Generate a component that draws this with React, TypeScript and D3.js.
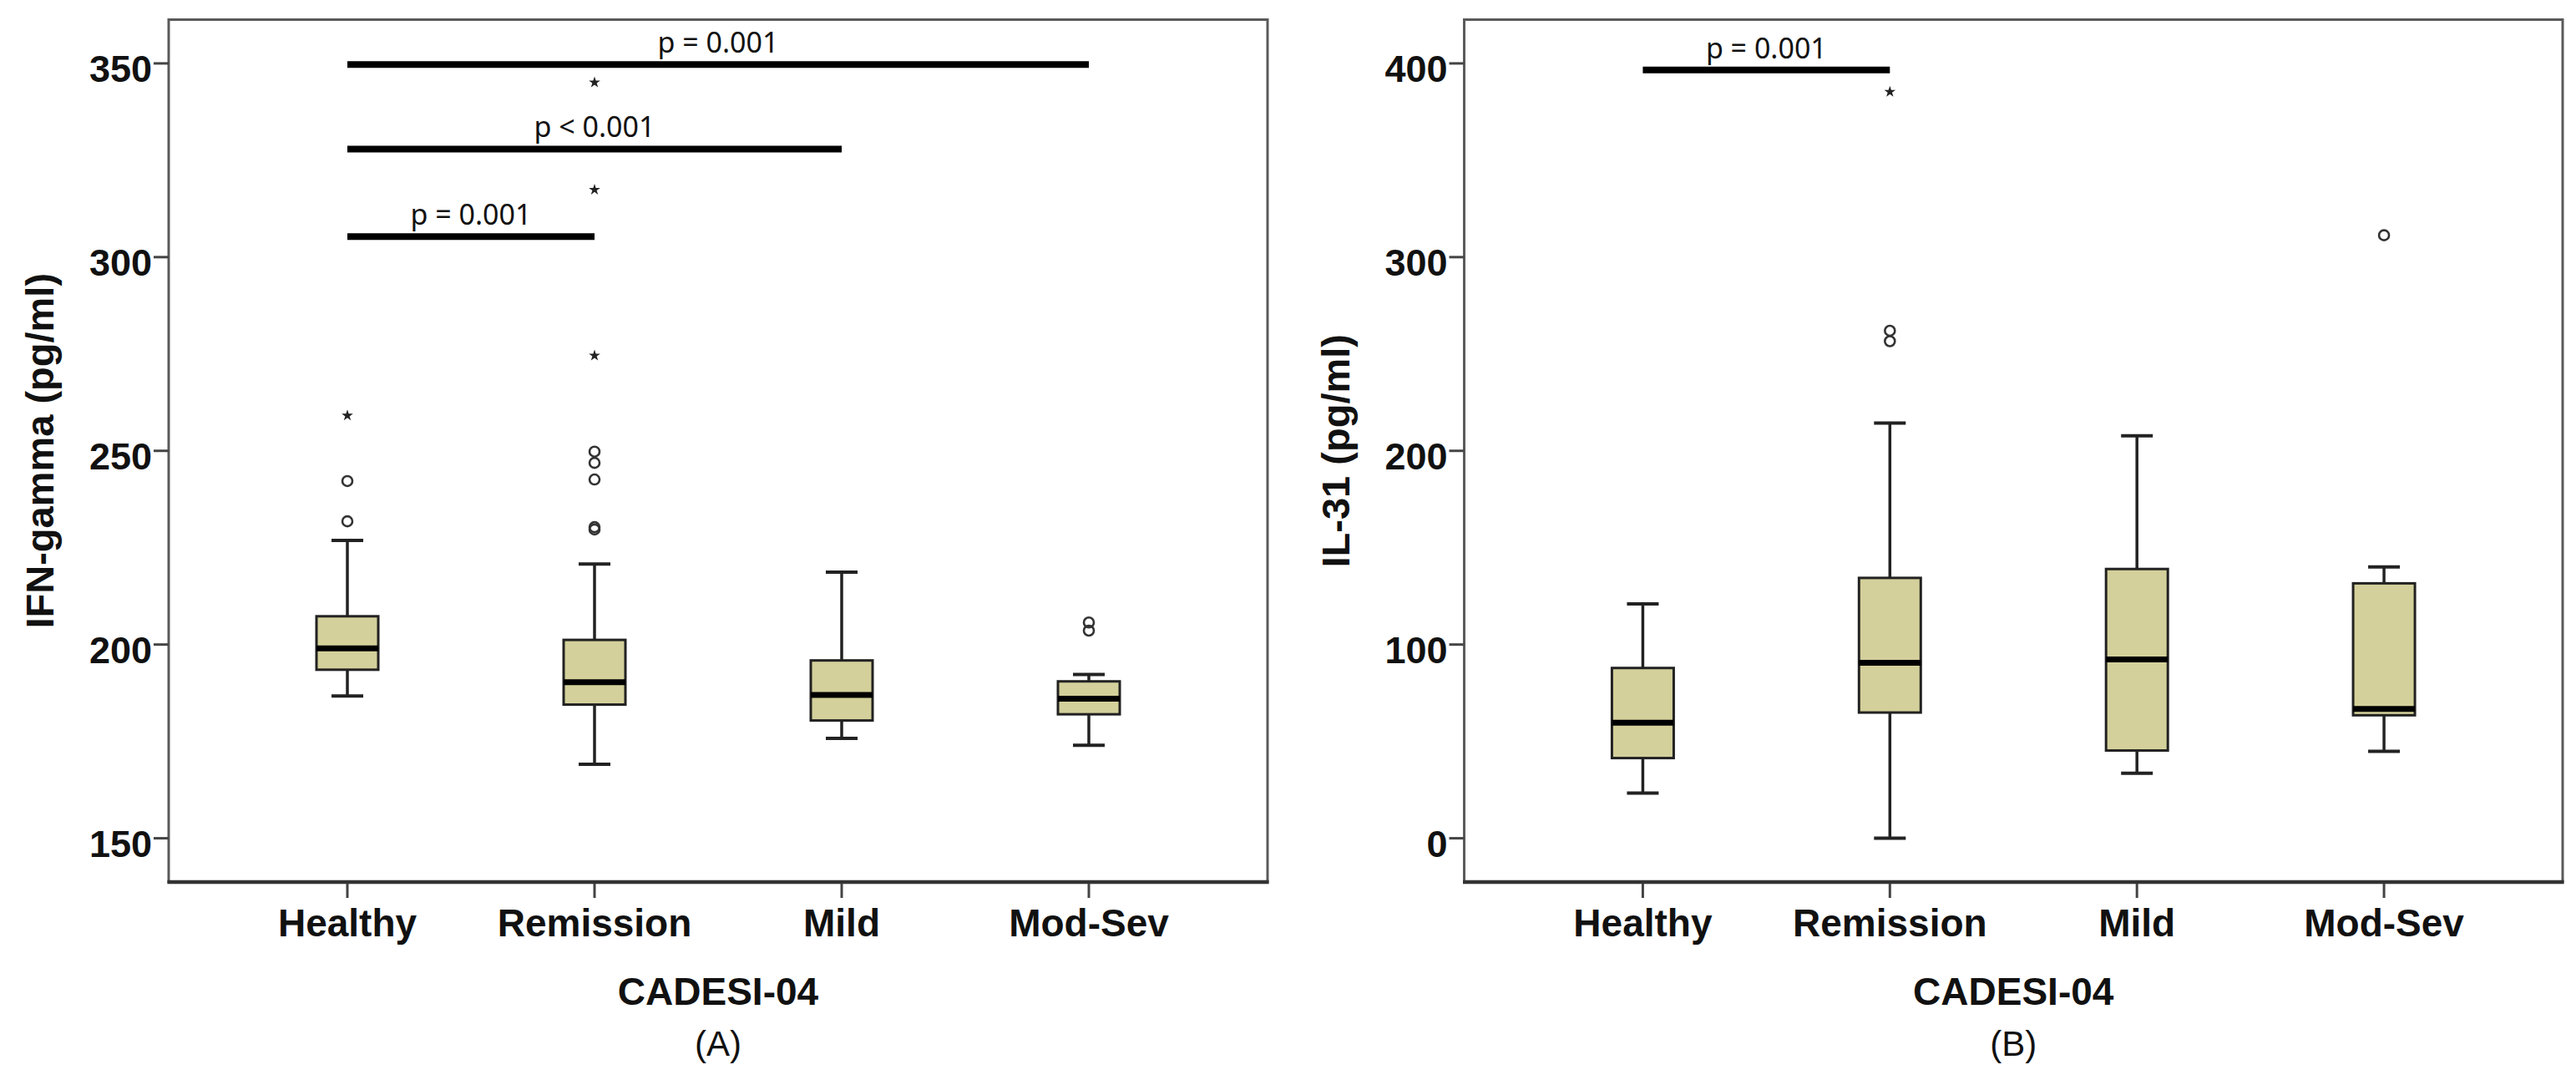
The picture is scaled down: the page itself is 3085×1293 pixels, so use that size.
import React from "react";
import * as d3 from "d3";

// ---------- data ----------
const categories = ["Healthy", "Remission", "Mild", "Mod-Sev"];

// Panel A: IFN-gamma (pg/ml)
const ifnWhiskerLow = [186.7, 169.1, 175.8, 174.0];
const ifnQ1 = [193.5, 184.5, 180.4, 182.0];
const ifnMedian = [199.0, 190.3, 187.0, 186.0];
const ifnQ3 = [207.3, 201.2, 195.9, 190.5];
const ifnWhiskerHigh = [226.9, 220.8, 218.7, 192.3];
const ifnOutlierCircles = [
  { group: "Healthy", value: 231.8 },
  { group: "Healthy", value: 242.2 },
  { group: "Remission", value: 229.7 },
  { group: "Remission", value: 230.3 },
  { group: "Remission", value: 242.6 },
  { group: "Remission", value: 246.9 },
  { group: "Remission", value: 249.8 },
  { group: "Mod-Sev", value: 203.6 },
  { group: "Mod-Sev", value: 205.7 },
];
const ifnOutlierStars = [
  { group: "Healthy", value: 259.1 },
  { group: "Remission", value: 274.6 },
  { group: "Remission", value: 317.4 },
  { group: "Remission", value: 345.1 },
];
const ifnTicks = [150, 200, 250, 300, 350];
const ifnDomain = [138.7, 361.3];
const ifnSig = [
  { from: "Healthy", to: "Remission", value: 305.3, label: "p = 0.001" },
  { from: "Healthy", to: "Mild", value: 327.9, label: "p < 0.001" },
  { from: "Healthy", to: "Mod-Sev", value: 349.7, label: "p = 0.001" },
];

// Panel B: IL-31 (pg/ml)
const ilWhiskerLow = [23.3, 0, 33.6, 44.9];
const ilQ1 = [41.4, 64.9, 45.3, 63.5];
const ilMedian = [59.6, 90.6, 92.3, 66.8];
const ilQ3 = [87.9, 134.4, 139.0, 131.6];
const ilWhiskerHigh = [121.0, 214.3, 207.8, 140.1];
const ilOutlierCircles = [
  { group: "Remission", value: 256.6 },
  { group: "Remission", value: 262.0 },
  { group: "Mod-Sev", value: 311.3 },
];
const ilOutlierStars = [{ group: "Remission", value: 385.3 }];
const ilTicks = [0, 100, 200, 300, 400];
const ilDomain = [-22.6, 422.6];
const ilSig = [{ from: "Healthy", to: "Remission", value: 396.6, label: "p = 0.001" }];

// ---------- styles ----------
const BOX_FILL = "#D4D09B";
const BOLD_FONT = "'Liberation Sans', Arial, sans-serif";
const PVAL_FONT = "'Noto Sans', 'Open Sans', sans-serif";

type Panel = {
  left: number;
  right: number;
  yTitle: string;
  caption: string;
  domain: number[];
  ticks: number[];
  low: number[];
  q1: number[];
  med: number[];
  q3: number[];
  high: number[];
  circles: { group: string; value: number }[];
  stars: { group: string; value: number }[];
  sig: { from: string; to: string; value: number; label: string }[];
};

const TOP = 23.5;
const BOTTOM = 1056;

function BoxPanel({ p }: { p: Panel }) {
  const x = d3
    .scalePoint<string>()
    .domain(categories)
    .range([p.left, p.right])
    .padding(0.723);
  const y = d3.scaleLinear().domain(p.domain).range([BOTTOM, TOP]);
  const boxW = 74;
  const capW = 38;
  const star = d3.symbol().type(d3.symbolStar).size(58)();
  const cx = (p.left + p.right) / 2;
  const midY = (TOP + BOTTOM) / 2;

  return (
    <g>
      {/* frame */}
      <rect
        x={p.left}
        y={TOP}
        width={p.right - p.left}
        height={BOTTOM - TOP}
        fill="none"
        stroke="#5a5a5a"
        strokeWidth={3}
      />
      <line x1={p.left - 1.5} x2={p.right + 1.5} y1={BOTTOM} y2={BOTTOM} stroke="#333" strokeWidth={4.5} />

      {/* y ticks */}
      {p.ticks.map((t) => (
        <g key={"yt" + t}>
          <line x1={p.left - 18} x2={p.left} y1={y(t)} y2={y(t)} stroke="#444" strokeWidth={3} />
          <text
            x={p.left - 20}
            y={y(t) + 22}
            textAnchor="end"
            fontFamily={BOLD_FONT}
            fontWeight="bold"
            fontSize={45}
            fill="#111"
          >
            {t}
          </text>
        </g>
      ))}

      {/* x ticks */}
      {categories.map((c) => (
        <g key={"xt" + c}>
          <line x1={x(c)} x2={x(c)} y1={BOTTOM + 2} y2={BOTTOM + 19} stroke="#444" strokeWidth={3} />
          <text
            x={x(c)}
            y={1121}
            textAnchor="middle"
            fontFamily={BOLD_FONT}
            fontWeight="bold"
            fontSize={46}
            fill="#111"
          >
            {c}
          </text>
        </g>
      ))}

      {/* axis titles */}
      <text
        x={cx}
        y={1203}
        textAnchor="middle"
        fontFamily={BOLD_FONT}
        fontWeight="bold"
        fontSize={46}
        fill="#111"
      >
        CADESI-04
      </text>
      <text x={cx} y={1264} textAnchor="middle" fontFamily={BOLD_FONT} fontSize={42} fill="#111">
        {p.caption}
      </text>
      <text
        transform={`translate(${p.left - 138},${midY}) rotate(-90)`}
        textAnchor="middle"
        fontFamily={BOLD_FONT}
        fontWeight="bold"
        fontSize={47}
        fill="#111"
      >
        {p.yTitle}
      </text>

      {/* boxes */}
      {categories.map((c, i) => {
        const xc = x(c) as number;
        return (
          <g key={"box" + c}>
            <line x1={xc} x2={xc} y1={y(p.high[i])} y2={y(p.q3[i])} stroke="#222" strokeWidth={3.5} />
            <line x1={xc} x2={xc} y1={y(p.q1[i])} y2={y(p.low[i])} stroke="#222" strokeWidth={3.5} />
            <line x1={xc - capW / 2} x2={xc + capW / 2} y1={y(p.high[i])} y2={y(p.high[i])} stroke="#222" strokeWidth={4} />
            <line x1={xc - capW / 2} x2={xc + capW / 2} y1={y(p.low[i])} y2={y(p.low[i])} stroke="#222" strokeWidth={4} />
            <rect
              x={xc - boxW / 2}
              y={y(p.q3[i])}
              width={boxW}
              height={y(p.q1[i]) - y(p.q3[i])}
              fill={BOX_FILL}
              stroke="#222"
              strokeWidth={3}
            />
            <line
              x1={xc - boxW / 2}
              x2={xc + boxW / 2}
              y1={y(p.med[i])}
              y2={y(p.med[i])}
              stroke="#000"
              strokeWidth={7}
            />
          </g>
        );
      })}

      {/* outliers */}
      {p.circles.map((o, i) => (
        <circle
          key={"oc" + i}
          cx={x(o.group)}
          cy={y(o.value)}
          r={6}
          fill="none"
          stroke="#333"
          strokeWidth={2.6}
        />
      ))}
      {p.stars.map((o, i) => (
        <path key={"os" + i} d={star as string} transform={`translate(${x(o.group)},${y(o.value)})`} fill="#222" />
      ))}

      {/* significance bars */}
      {p.sig.map((s, i) => {
        const x1 = x(s.from) as number;
        const x2 = x(s.to) as number;
        const yy = y(s.value);
        return (
          <g key={"sig" + i}>
            <line x1={x1} x2={x2} y1={yy} y2={yy} stroke="#000" strokeWidth={8} />
            <text
              x={(x1 + x2) / 2}
              y={yy - 14}
              textAnchor="middle"
              fontFamily={PVAL_FONT}
              fontSize={34}
              fill="#111"
            >
              {s.label}
            </text>
          </g>
        );
      })}
    </g>
  );
}

export default function App() {
  const panelA: Panel = {
    left: 202,
    right: 1518,
    yTitle: "IFN-gamma (pg/ml)",
    caption: "(A)",
    domain: ifnDomain,
    ticks: ifnTicks,
    low: ifnWhiskerLow,
    q1: ifnQ1,
    med: ifnMedian,
    q3: ifnQ3,
    high: ifnWhiskerHigh,
    circles: ifnOutlierCircles,
    stars: ifnOutlierStars,
    sig: ifnSig,
  };
  const panelB: Panel = {
    left: 1753.5,
    right: 3069,
    yTitle: "IL-31 (pg/ml)",
    caption: "(B)",
    domain: ilDomain,
    ticks: ilTicks,
    low: ilWhiskerLow,
    q1: ilQ1,
    med: ilMedian,
    q3: ilQ3,
    high: ilWhiskerHigh,
    circles: ilOutlierCircles,
    stars: ilOutlierStars,
    sig: ilSig,
  };
  return (
    <svg
      width={3085}
      height={1293}
      viewBox="0 0 3085 1293"
      style={{ position: "absolute", left: 0, top: 0, background: "#fff" }}
    >
      <rect x={0} y={0} width={3085} height={1293} fill="#fff" />
      <BoxPanel p={panelA} />
      <BoxPanel p={panelB} />
    </svg>
  );
}
